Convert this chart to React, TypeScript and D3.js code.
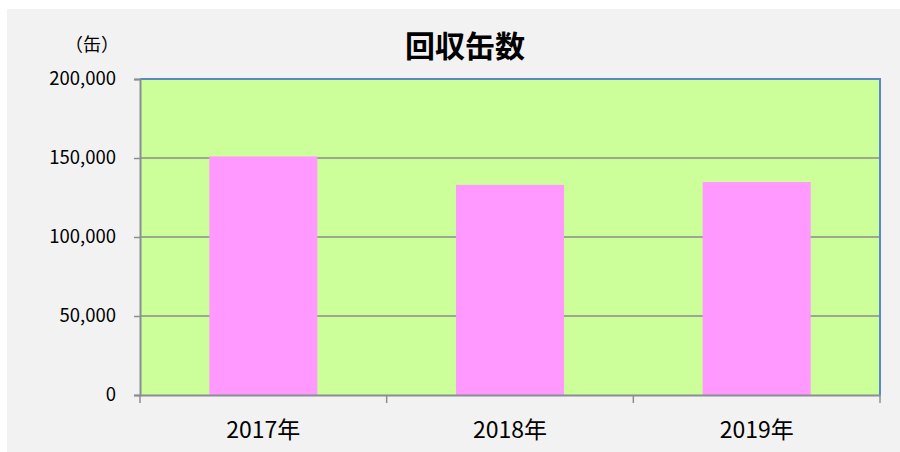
import React, { useEffect, useRef } from 'react'
import * as d3 from 'd3'

// 年ごとの回収缶数
const years = ['2017年', '2018年', '2019年']
const cans = [151000, 133000, 134800]
const yTicks = [0, 50000, 100000, 150000, 200000]

const W = 900
const H = 452
const margin = { left: 140, right: 20, top: 79, bottom: 57 }

const App = () => {
  const ref = useRef<SVGSVGElement>(null)

  useEffect(() => {
    const svg = d3.select(ref.current)
    svg.selectAll('*').remove()

    const x0 = margin.left
    const x1 = W - margin.right
    const y0 = margin.top
    const y1 = H - margin.bottom

    // 背景
    svg.append('rect').attr('width', W).attr('height', H).attr('fill', '#ffffff')
    svg
      .append('rect')
      .attr('x', 7)
      .attr('y', 9)
      .attr('width', W - 7)
      .attr('height', H - 9)
      .attr('fill', '#f2f2f2')

    const xScale = d3
      .scaleBand()
      .domain(years)
      .range([x0, x1])
      .paddingInner(0.562)
      .paddingOuter(0.281)

    const yScale = d3.scaleLinear().domain([0, 200000]).range([y1, y0])

    // プロットエリア
    svg
      .append('rect')
      .attr('x', x0)
      .attr('y', y0)
      .attr('width', x1 - x0)
      .attr('height', y1 - y0)
      .attr('fill', '#ccff99')

    // 目盛線
    svg
      .selectAll('.grid')
      .data(yTicks.filter((d) => d > 0 && d < 200000))
      .enter()
      .append('line')
      .attr('x1', x0)
      .attr('x2', x1)
      .attr('y1', (d) => yScale(d))
      .attr('y2', (d) => yScale(d))
      .attr('stroke', '#8c8c8c')
      .attr('stroke-width', 1.5)

    // 棒
    svg
      .selectAll('.bar')
      .data(cans)
      .enter()
      .append('rect')
      .attr('x', (d, i) => xScale(years[i]) as number)
      .attr('y', (d) => yScale(d))
      .attr('width', xScale.bandwidth())
      .attr('height', (d) => yScale(0) - yScale(d))
      .attr('fill', '#ff99ff')

    // 上・右の枠線
    svg
      .append('path')
      .attr('d', `M${x0},${y0}H${x1}V${y1}`)
      .attr('fill', 'none')
      .attr('stroke', '#5b87c8')
      .attr('stroke-width', 2)

    // 縦軸
    const yAxis = svg
      .append('g')
      .attr('transform', `translate(${x0},0)`)
      .call(
        d3
          .axisLeft(yScale)
          .tickValues(yTicks)
          .tickSize(6)
          .tickPadding(18)
          .tickFormat((d) => d3.format(',')(d as number))
      )
    yAxis.select('.domain').attr('stroke', '#8a8e93').attr('stroke-width', 2)
    yAxis.selectAll('.tick line').attr('stroke', '#8a8e93').attr('stroke-width', 1.5)
    yAxis
      .selectAll('.tick text')
      .attr('fill', '#000')
      .style('font-family', '"Noto Sans CJK JP", sans-serif')
      .style('font-size', '18.5px')

    // 横軸
    const xAxis = svg
      .append('g')
      .attr('transform', `translate(0,${y1})`)
      .call(d3.axisBottom(xScale).tickSize(0).tickPadding(27))
    xAxis.select('.domain').attr('stroke', '#8a8e93').attr('stroke-width', 2)
    xAxis
      .selectAll('.tick text')
      .attr('fill', '#000')
      .style('font-family', '"Noto Sans CJK JP", sans-serif')
      .style('font-size', '23px')

    // 区切りの目盛
    const bounds = [x0, ...years.slice(1).map((y) => (xScale(y) as number) - (xScale.step() * xScale.paddingInner()) / 2), x1]
    svg
      .selectAll('.xtick')
      .data(bounds)
      .enter()
      .append('line')
      .attr('x1', (d) => d)
      .attr('x2', (d) => d)
      .attr('y1', y1)
      .attr('y2', y1 + 8)
      .attr('stroke', '#8a8e93')
      .attr('stroke-width', 1.5)

    // タイトル
    svg
      .append('text')
      .text('回収缶数')
      .attr('x', 465)
      .attr('y', 57)
      .attr('text-anchor', 'middle')
      .style('font-family', '"Noto Sans CJK JP", sans-serif')
      .style('font-weight', 'bold')
      .style('font-size', '30px')

    svg
      .append('text')
      .text('（缶）')
      .attr('x', 92)
      .attr('y', 51)
      .attr('text-anchor', 'middle')
      .style('font-family', '"Noto Sans CJK JP", sans-serif')
      .style('font-size', '18px')
  }, [])

  return (
    <svg
      ref={ref}
      width={W}
      height={H}
      style={{ position: 'absolute', left: 0, top: 0 }}
    />
  )
}

export default App
